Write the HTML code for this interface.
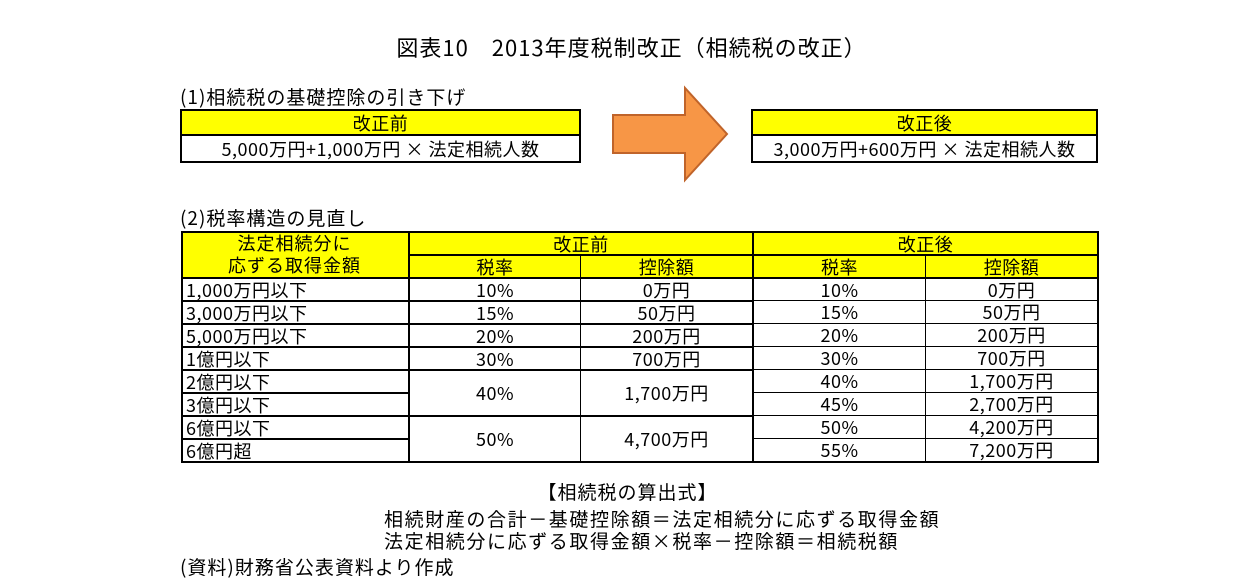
<!DOCTYPE html>
<html><head><meta charset="utf-8">
<style>
body{margin:0;width:1255px;height:586px;background:#fff;position:relative;overflow:hidden;font-family:"Noto Sans CJK JP","Liberation Sans",sans-serif;color:#000}
.t{position:absolute;white-space:nowrap;font-size:19px;line-height:22px;letter-spacing:1px}
.c{position:absolute;box-sizing:border-box;font-size:18px;line-height:20px;display:flex;align-items:center;justify-content:center;white-space:nowrap;letter-spacing:0.5px;overflow:hidden}
.y{background:#ffff00}
.l{justify-content:flex-start;padding-left:3px}
</style></head><body>
<div class="t" style="left:4px;width:1255px;text-align:center;top:34px;font-size:22px;line-height:26px;letter-spacing:1px">図表10　2013年度税制改正（相続税の改正）</div>
<div class="t" style="left:180px;top:86px">(1)相続税の基礎控除の引き下げ</div>

<div style="position:absolute;left:180px;top:109px;width:401px;height:54px;border:2px solid #000;box-sizing:border-box">
 <div class="c y" style="left:0;top:0;width:397px;height:25px;border-bottom:2px solid #000">改正前</div>
 <div class="c" style="left:0;top:25px;width:397px;height:25px">5,000万円+1,000万円 × 法定相続人数</div>
</div>
<div style="position:absolute;left:751px;top:109px;width:347px;height:54px;border:2px solid #000;box-sizing:border-box">
 <div class="c y" style="left:0;top:0;width:343px;height:25px;border-bottom:2px solid #000">改正後</div>
 <div class="c" style="left:0;top:25px;width:343px;height:25px">3,000万円+600万円 × 法定相続人数</div>
</div>
<svg style="position:absolute;left:0;top:0" width="1255" height="586">
<polygon points="613,115 685,115 685,88 727,134 685,180 685,153 613,153" fill="#f79646" stroke="#c0642a" stroke-width="2"/>
</svg>

<div class="t" style="left:180px;top:207px">(2)税率構造の見直し</div>
<div id="tbl" style="position:absolute;left:0;top:0"></div>

<div class="t" style="left:0;width:1255px;text-align:center;top:481px">【相続税の算出式】</div>
<div class="t" style="left:384px;top:508px;letter-spacing:1.6px">相続財産の合計－基礎控除額＝法定相続分に応ずる取得金額</div>
<div class="t" style="left:384px;top:530px;letter-spacing:1.6px">法定相続分に応ずる取得金額×税率－控除額＝相続税額</div>
<div class="t" style="left:180px;top:556px">(資料)財務省公表資料より作成</div>

<script>
const brackets=["1,000万円以下","3,000万円以下","5,000万円以下","1億円以下","2億円以下","3億円以下","6億円以下","6億円超"];
const oldRate=["10%","15%","20%","30%","40%","","50%",""];
const oldDed=["0万円","50万円","200万円","700万円","1,700万円","","4,700万円",""];
const newRate=["10%","15%","20%","30%","40%","45%","50%","55%"];
const newDed=["0万円","50万円","200万円","700万円","1,700万円","2,700万円","4,200万円","7,200万円"];
const X=[181,408,580,752,925,1097];
const Y0=231,Y1=254,Y2=277,RH=23;
const T=document.getElementById('tbl');
function cell(x1,y1,x2,y2,txt,cls,bt,bl,name){
 const d=document.createElement('div');
 d.className='c '+(cls||'');
 d.style.left=x1+'px';d.style.top=y1+'px';d.style.width=(x2-x1)+'px';d.style.height=(y2-y1)+'px';
 d.style.borderTop=bt+'px solid #000';d.style.borderLeft=bl+'px solid #000';
 d.textContent=txt;
 
 
 T.appendChild(d);
}
cell(X[0],Y0,X[1],Y2,'','y',2,2,'bracket-header');
const h=document.createElement('div');h.className='t';h.style.left=X[0]+'px';h.style.width=(X[1]-X[0])+'px';h.style.textAlign='center';h.style.top=(Y0+1)+'px';h.style.lineHeight='22px';h.style.fontSize='18px';h.innerHTML='法定相続分に<br>応ずる取得金額';


T.appendChild(h);
cell(X[1],Y0,X[3],Y1,'改正前','y',2,2,'before-group-header');
cell(X[3],Y0,X[5],Y1,'改正後','y',2,2,'after-group-header');
cell(X[1],Y1,X[2],Y2,'税率','y',2,2,'before-rate-header');
cell(X[2],Y1,X[3],Y2,'控除額','y',2,1,'before-deduction-header');
cell(X[3],Y1,X[4],Y2,'税率','y',2,2,'after-rate-header');
cell(X[4],Y1,X[5],Y2,'控除額','y',2,1,'after-deduction-header');
for(let i=0;i<brackets.length;i++){
 const y=Y2+i*RH;
 cell(X[0],y,X[1],y+RH,brackets[i],'l',2,2,'bracket-'+i);
 if(oldRate[i]!==''){
  const span=(i+1<brackets.length&&oldRate[i+1]==='')?2:1;
  cell(X[1],y,X[2],y+RH*span,oldRate[i],'',2,2,'before-rate-'+i);
  cell(X[2],y,X[3],y+RH*span,oldDed[i],'',2,1,'before-deduction-'+i);
 }
 cell(X[3],y,X[4],y+RH,newRate[i],'',i===0?2:1,2,'after-rate-'+i);
 cell(X[4],y,X[5],y+RH,newDed[i],'',i===0?2:1,1,'after-deduction-'+i);
}
const yb=Y2+brackets.length*RH;
const bb=document.createElement('div');
bb.style.cssText='position:absolute;box-sizing:border-box;left:'+X[0]+'px;top:'+Y0+'px;width:'+(X[5]-X[0]+2)+'px;height:'+(yb-Y0+2)+'px;border:2px solid #000';


T.appendChild(bb);
</script>
</body></html>
